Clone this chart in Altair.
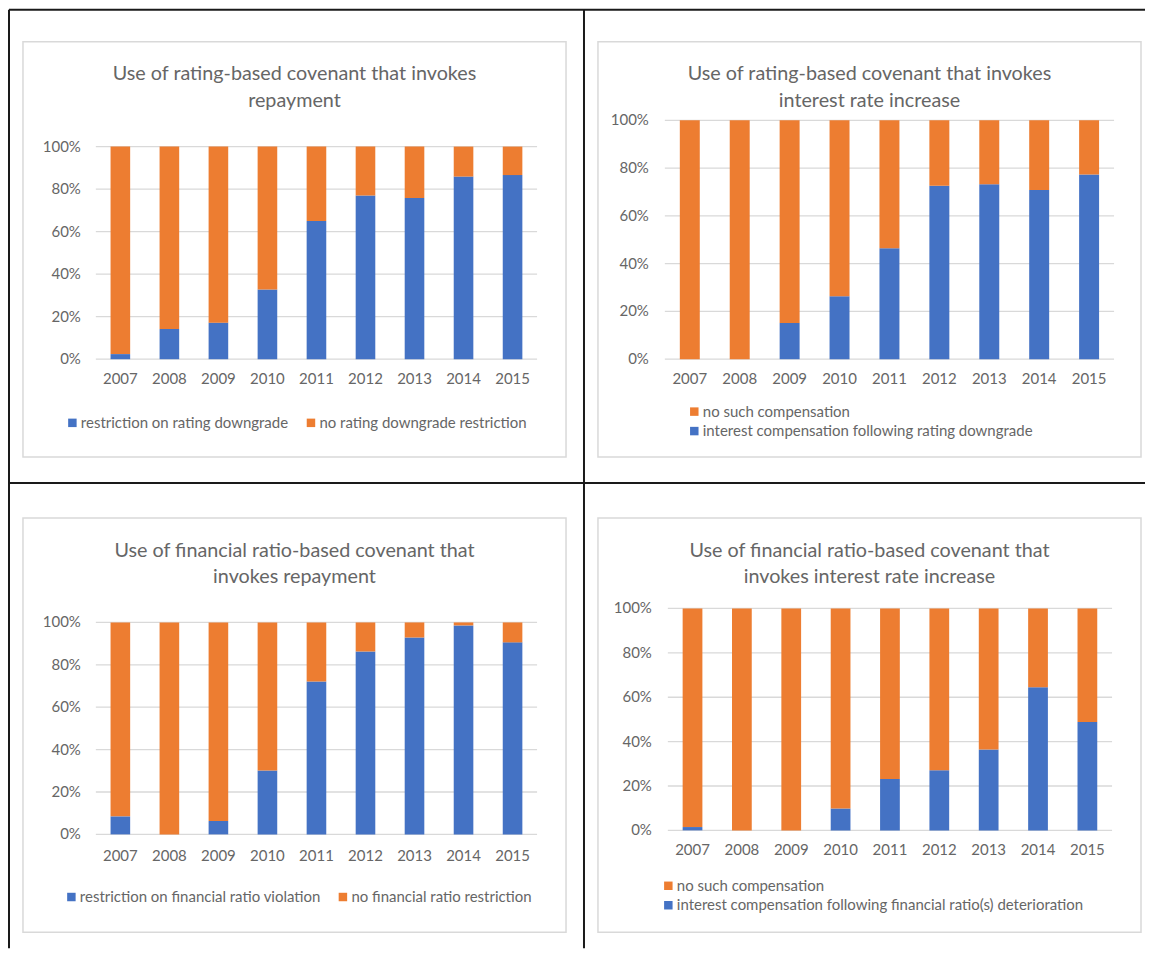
import altair as alt
import pandas as pd

years = ["2007", "2008", "2009", "2010", "2011", "2012", "2013", "2014", "2015"]

# share (%) of the blue series; orange is the remainder to 100%
blue_tl = [2.4, 14.2, 17.2, 32.8, 65.0, 77.0, 75.8, 85.9, 86.6]
blue_tr = [0.0, 0.0, 15.2, 26.4, 46.5, 72.6, 73.2, 70.8, 77.3]
blue_bl = [8.5, 0.0, 6.3, 30.1, 72.1, 86.3, 92.9, 98.6, 90.6]
blue_br = [1.5, 0.0, 0.0, 9.9, 23.1, 27.1, 36.4, 64.5, 48.8]

y_ticks = [0, 20, 40, 60, 80, 100]
y_tick_labels = ["0%", "20%", "40%", "60%", "80%", "100%"]

titles_tl = ["Use of rating-based covenant that invokes", "repayment"]
titles_tr = ["Use of rating-based covenant that invokes", "interest rate increase"]
titles_bl = ["Use of financial ratio-based covenant that", "invokes repayment"]
titles_br = ["Use of financial ratio-based covenant that", "invokes interest rate increase"]

leg_tl = ["restriction on rating downgrade", "no rating downgrade restriction"]
leg_tr = ["interest compensation following rating downgrade", "no such compensation"]
leg_bl = ["restriction on financial ratio violation", "no financial ratio restriction"]
leg_br = ["interest compensation following financial ratio(s) deterioration", "no such compensation"]

BLUE = "#4472C4"
ORANGE = "#ED7D31"
GRID = "#D9D9D9"
TXT = "#666666"
FONT = "Lato"


def panel(blue, labels, titles, g):
    blue_lab, orange_lab = labels
    rows = []
    for yr, b in zip(years, blue):
        rows.append({"year": yr, "series": blue_lab, "pct": b, "ord": 0})
        rows.append({"year": yr, "series": orange_lab, "pct": 100 - b, "ord": 1})
    df = pd.DataFrame(rows)

    xs = alt.Scale(domain=years, range=[g["x0"], g["x1"]], paddingInner=0.6, paddingOuter=0.3)
    ys = alt.Scale(domain=[0, 100], range=[g["y0"], g["y100"]], nice=False, zero=True)

    if g["vertical"]:
        dom = [orange_lab, blue_lab]
        rng = [ORANGE, BLUE]
    else:
        dom = [blue_lab, orange_lab]
        rng = [BLUE, ORANGE]

    legend = alt.Legend(
        orient="none", legendX=g["lx"], legendY=g["ly"],
        direction="vertical" if g["vertical"] else "horizontal",
        title=None, symbolType="square", symbolSize=72, symbolStrokeWidth=0,
        labelFont=FONT, labelFontSize=15, labelColor=TXT, labelOffset=1,
        columnPadding=g["cp"], rowPadding=3.5, padding=0, labelLimit=600,
    )

    one = pd.DataFrame({"k": [0]})
    frame = alt.Chart(one).mark_rect(fillOpacity=0, stroke=GRID, strokeWidth=1.5).encode(
        x=alt.value(14), x2=alt.value(558), y=alt.value(g["fy0"]), y2=alt.value(g["fy1"]))
    vline = alt.Chart(one).mark_rule(color="#1a1a1a", strokeWidth=2).encode(
        x=alt.value(0), y=alt.value(0), y2=alt.value(g["H"]))
    hline = alt.Chart(one).mark_rule(color="#1a1a1a", strokeWidth=2).encode(
        y=alt.value(0), x=alt.value(0), x2=alt.value(g["W"]))

    ticks = pd.DataFrame({"v": y_ticks, "lab": y_tick_labels})
    grid = alt.Chart(ticks).mark_rule(color=GRID, strokeWidth=1.3).encode(
        y=alt.Y("v:Q", scale=ys, axis=None), x=alt.value(g["x0"]), x2=alt.value(g["x1"]))
    ylab = alt.Chart(ticks).mark_text(align="right", baseline="middle", font=FONT,
                                      fontSize=15, color=TXT).encode(
        y=alt.Y("v:Q", scale=ys, axis=None), x=alt.value(g["ylx"]), text="lab:N")

    bars = alt.Chart(df).mark_bar(strokeWidth=0).encode(
        x=alt.X("year:N", scale=xs, axis=None, sort=years),
        y=alt.Y("pct:Q", stack="zero", scale=ys, axis=None),
        color=alt.Color("series:N", scale=alt.Scale(domain=dom, range=rng), legend=legend),
        order=alt.Order("ord:Q"),
    )
    xlab = alt.Chart(pd.DataFrame({"year": years})).mark_text(
        baseline="middle", font=FONT, fontSize=15, color=TXT).encode(
        x=alt.X("year:N", scale=xs, axis=None, sort=years), y=alt.value(g["xly"]), text="year:N")

    t1 = alt.Chart(pd.DataFrame({"t": [titles[0]]})).mark_text(
        align="center", baseline="alphabetic", font=FONT, fontSize=19.8, color=TXT).encode(
        x=alt.value(286), y=alt.value(g["t1"]), text="t:N")
    t2 = alt.Chart(pd.DataFrame({"t": [titles[1]]})).mark_text(
        align="center", baseline="alphabetic", font=FONT, fontSize=19.8, color=TXT).encode(
        x=alt.value(286), y=alt.value(g["t2"]), text="t:N")

    return alt.layer(frame, vline, hline, grid, bars, ylab, xlab, t1, t2).properties(
        width=g["W"], height=g["H"])


g_tl = dict(W=576, H=474, x0=87, x1=529, y0=350, y100=137, ylx=72, xly=370,
            t1=70, t2=97, fy0=32, fy1=448, lx=56, ly=406, cp=15, vertical=False)
g_tr = dict(W=562, H=474, x0=81, x1=531, y0=350, y100=110.7, ylx=65, xly=370,
            t1=70, t2=97, fy0=32, fy1=448, lx=103, ly=395, cp=20, vertical=True)
g_bl = dict(W=576, H=466, x0=87, x1=529, y0=352, y100=139.7, ylx=72, xly=374,
            t1=74, t2=100, fy0=35, fy1=450, lx=55, ly=407, cp=14, vertical=False)
g_br = dict(W=562, H=466, x0=84, x1=529, y0=348, y100=125.7, ylx=68, xly=368,
            t1=74, t2=100, fy0=35, fy1=450, lx=77, ly=396, cp=20, vertical=True)

tl = panel(blue_tl, leg_tl, titles_tl, g_tl)
tr = panel(blue_tr, leg_tr, titles_tr, g_tr)
bl = panel(blue_bl, leg_bl, titles_bl, g_bl)
br = panel(blue_br, leg_br, titles_br, g_br)

chart = alt.concat(tl, tr, bl, br, columns=2, spacing=0, bounds="flush").resolve_scale(
    color="independent", x="independent", y="independent").resolve_legend(
    color="independent").properties(padding=0).configure_view(strokeWidth=0)

chart.save("out.html", embed_options={"renderer": "svg", "actions": False})
